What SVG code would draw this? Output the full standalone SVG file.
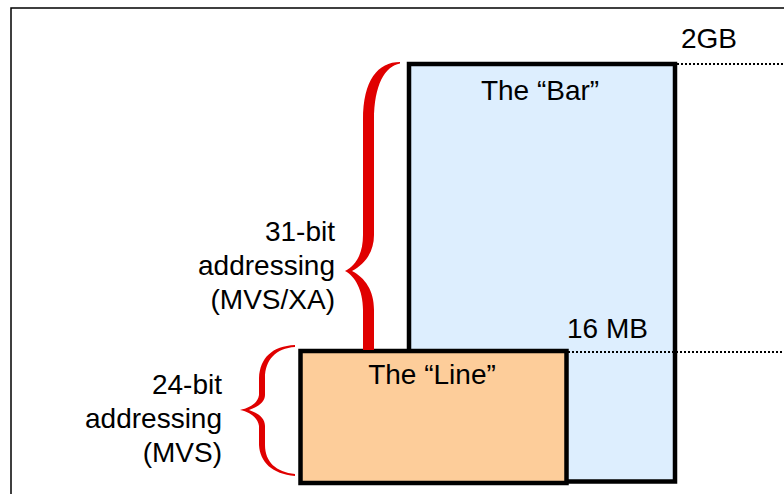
<svg xmlns="http://www.w3.org/2000/svg" width="784" height="494" viewBox="0 0 784 494">
<style>
text{font-family:"Liberation Sans",Arial,sans-serif;font-size:28px;fill:#000}
.r{text-anchor:end}
.m{text-anchor:middle}
.box{stroke:#000;stroke-width:4.5}
.dot{stroke:#000;stroke-width:2;stroke-dasharray:2 2;fill:none}
.brace{fill:#E00000}
</style>
<rect width="784" height="494" fill="#fff"/>
<path d="M11 494 V8 H784" fill="none" stroke="#000" stroke-width="1.5"/>
<g id="bar">
<rect class="box" x="409" y="64" width="266" height="417.5" fill="#DDEEFE"/>
<text class="m" x="540" y="100">The “Bar”</text>
</g>
<g id="line">
<rect class="box" x="300.5" y="351" width="266" height="132" fill="#FDCD9A"/>
<text class="m" x="432" y="384">The “Line”</text>
</g>
<g id="connectors">
<line class="dot" x1="677" y1="64" x2="784" y2="64"/>
<line class="dot" x1="568" y1="352" x2="784" y2="352"/>
</g>
<g id="label-2gb"><text x="681" y="48">2GB</text></g>
<g id="label-16mb"><text x="567" y="338">16 MB</text></g>
<g id="brace31">
<path class="brace" d="M400 62 C378 62,363 80,363 120 L363 235 C363 255,355 266,345 271 C355 276,363 290,363 310 L363 350 L374 350 L374 310 C374 290,365 278,352 271 C365 264,374 252,374 235 L374 120 C374 85,385 66,400 63.5 Z"/>
<text class="r" x="335" y="241">31-bit</text>
<text class="r" x="335" y="275">addressing</text>
<text class="r" x="335" y="309">(MVS/XA)</text>
</g>
<g id="brace24">
<path class="brace" d="M295 345 C272 346,260 358,259 378 L259 395 C258 403,250 408,240 410 C250 412,258 418,259 426 L259 445 C260 462,272 474,295 476 L295 474 C276 472,265 462,265 445 L265 426 C265 418,258 413,249 410 C258 407,265 402,265 395 L265 378 C265 360,276 348,295 347 Z"/>
<text class="r" x="222" y="394">24-bit</text>
<text class="r" x="222" y="428">addressing</text>
<text class="r" x="222" y="462">(MVS)</text>
</g>
</svg>
